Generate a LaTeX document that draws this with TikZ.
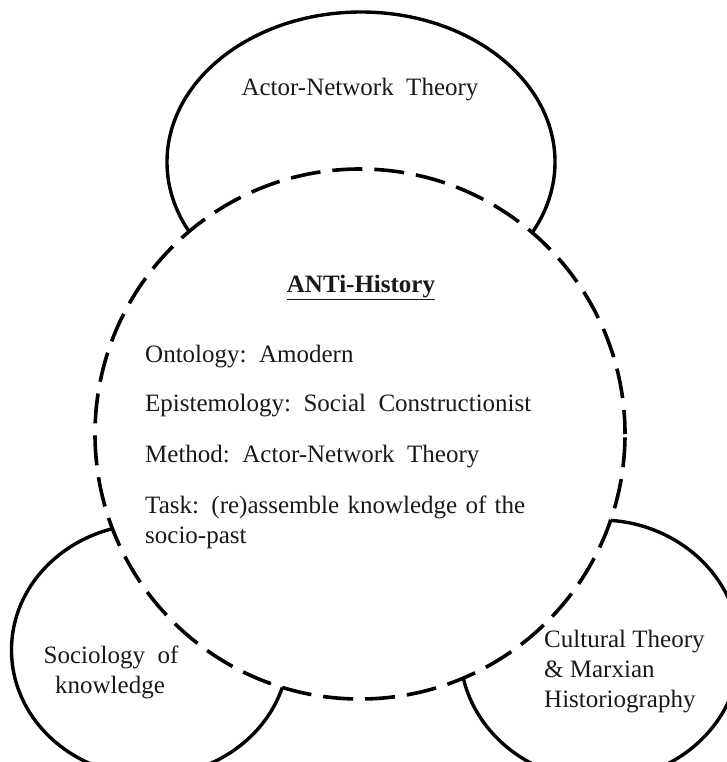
\documentclass[tikz,border=0pt]{standalone}
\usepackage{fontspec}
\setmainfont{Liberation Serif}
\usetikzlibrary{shapes.geometric}

\tikzset{
  outline/.style={draw=black, line width=3.4pt},
  field/.style={outline, ellipse, inner sep=0pt, fill=white},
  core/.style={circle, draw=black, line width=3.6pt, fill=white, inner sep=0pt,
    dash pattern=on 30pt off 12pt, dash phase=6pt},
  label/.style={inner sep=0pt, font=\fontsize{25pt}{30pt}\selectfont, text=black!90}
}

\begin{document}
\begin{tikzpicture}[x=1pt, y=-1pt]
  \useasboundingbox (0,0) rectangle (726,762);

  % surrounding fields of theory
  \node[field, minimum width=388pt, minimum height=300pt] (ant) at (361,162) {};
  \node[field, minimum width=277pt, minimum height=252pt] (sok) at (150,650) {};
  \node[field, minimum width=280pt, minimum height=260pt] (cmh) at (600,650) {};

  % central ANTi-History circle, drawn over the fields
  \node[core, minimum size=530pt] (core) at (360,434) {};

  % field labels
  \node[label, anchor=base] (antlbl) at (360,96) {Actor-Network\ \ Theory};
  \node[label, anchor=base] (soklbl1) at (111,663) {Sociology\ \ of};
  \node[label, anchor=base] (soklbl2) at (110,693) {knowledge};
  \node[label, anchor=base west] (cmhlbl1) at (544,647) {Cultural Theory};
  \node[label, anchor=base west] (cmhlbl2) at (544,677) {\&\ Marxian};
  \node[label, anchor=base west] (cmhlbl3) at (544,707) {Historiography};

  % contents of the central circle
  \node[label, anchor=base, font=\fontsize{25pt}{30pt}\selectfont\bfseries] (title) at (361,292) {\underline{ANTi-History}};
  \node[label, anchor=base west] (onto) at (145,362) {Ontology:\ \ Amodern};
  \node[label, anchor=base west] (epis) at (145,411) {Epistemology:\ \ Social\ \ Constructionist};
  \node[label, anchor=base west] (meth) at (145,462) {Method:\ \ Actor-Network\ \ Theory};
  \node[label, anchor=base west] (task1) at (145,513) {\makebox[380pt][s]{Task: (re)assemble knowledge of the}};
  \node[label, anchor=base west] (task2) at (145,543) {socio-past};
\end{tikzpicture}
\end{document}
